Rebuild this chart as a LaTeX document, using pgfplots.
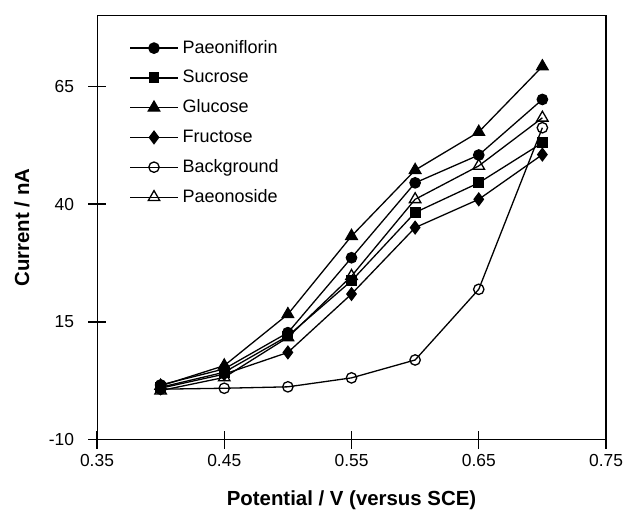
\documentclass[border=0pt]{standalone}
\usepackage{fontspec}
\setmainfont{Liberation Sans}
\usepackage{pgfplots}
\pgfplotsset{compat=1.18}

\begin{document}
\begin{tikzpicture}
\begin{axis}[
    name=main,
    scale only axis,
    width=254.5pt,
    height=212pt,
    xmin=0.35, xmax=0.75,
    ymin=-10, ymax=80,
    xtick={0.35,0.45,0.55,0.65,0.75},
    ytick={-10,15,40,65},
    tick pos=left,
    tick align=center,
    major tick length=9pt,
    every tick/.append style={black, line width=0.7pt},
    /pgf/number format/assume math mode=true,
    xticklabel style={font=\fontsize{8.7}{10}\selectfont, /pgf/number format/.cd, fixed, fixed zerofill, precision=2},
    yticklabel style={font=\fontsize{8.7}{10}\selectfont},
    xticklabel shift=-0.5pt,
    yticklabel shift=3.5pt,
    xlabel={\textbf{Potential / V (versus SCE)}},
    ylabel={\textbf{Current / nA}},
    label style={font=\fontsize{10.2}{12}\selectfont},
    xlabel style={at={(axis description cs:0.5,-0.1439)}, anchor=center},
    ylabel style={at={(axis description cs:-0.1473,0.5)}, anchor=center},
    legend style={draw=none, fill=none, at={(axis description cs:0.051,0.962)}, anchor=north west,
        font=\fontsize{9}{11}\selectfont, row sep=3pt},
    legend cell align=left,
    legend image code/.code={\draw[mark repeat=2,mark phase=2,#1] plot coordinates {(0pt,0pt) (12pt,0pt) (24pt,0pt)};},
    every axis plot/.append style={black, line width=0.65pt},
]

% Paeoniflorin
\addplot[mark=*, mark size=2.6pt, mark options={fill=black}] coordinates {
    (0.40, 1.6) (0.45, 5.0) (0.50, 12.7) (0.55, 28.6) (0.60, 44.5) (0.65, 50.4) (0.70, 62.2)
};
% Sucrose
\addplot[mark=square*, mark size=2.4pt, mark options={fill=black}] coordinates {
    (0.40, 1.1) (0.45, 4.3) (0.50, 12.0) (0.55, 23.7) (0.60, 38.2) (0.65, 44.5) (0.70, 53.0)
};
% Glucose
\addplot[mark=triangle*, mark size=3.3pt, mark options={fill=black}] coordinates {
    (0.40, 1.4) (0.45, 5.7) (0.50, 16.6) (0.55, 33.2) (0.60, 47.2) (0.65, 55.3) (0.70, 69.2)
};
% Fructose
\addplot[mark=diamond*, mark size=3.1pt, mark options={fill=black}] coordinates {
    (0.40, 0.9) (0.45, 3.9) (0.50, 8.5) (0.55, 20.9) (0.60, 35.0) (0.65, 41.0) (0.70, 50.5)
};
% Background
\addplot[mark=o, mark size=2.6pt, mark options={fill=white}] coordinates {
    (0.40, 0.7) (0.45, 0.9) (0.50, 1.2) (0.55, 3.1) (0.60, 6.9) (0.65, 21.9) (0.70, 56.2)
};
% Paeonoside
\addplot[mark=triangle, mark size=3.3pt, mark options={fill=white}] coordinates {
    (0.40, 0.4) (0.45, 3.2) (0.50, 11.7) (0.55, 24.7) (0.60, 41.0) (0.65, 48.1) (0.70, 58.3)
};

\legend{Paeoniflorin, Sucrose, Glucose, Fructose, Background, Paeonoside}

% frame on all four sides
\draw[line width=0.75pt] (rel axis cs:0,0) rectangle (rel axis cs:1,1);
\end{axis}
\pgfresetboundingbox
\path[use as bounding box] ([xshift=-48.5pt,yshift=-35.5pt]main.south west) rectangle ([xshift=8.5pt,yshift=7.8pt]main.north east);
\end{tikzpicture}
\end{document}
